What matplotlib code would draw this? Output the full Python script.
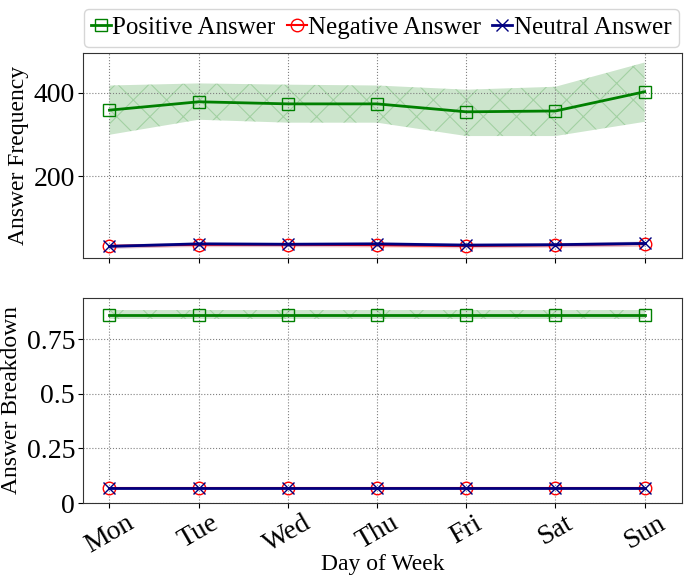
import matplotlib
matplotlib.use("Agg")
import matplotlib.pyplot as plt
import numpy as np

plt.rcParams['font.family'] = ['Liberation Serif', 'DejaVu Serif']
plt.rcParams['hatch.color'] = '#7fc87f'
plt.rcParams['hatch.linewidth'] = 0.8

days = ["Mon", "Tue", "Wed", "Thu", "Fri", "Sat", "Sun"]

# answer frequency (mean, lower, upper)
pos_freq = [358, 378, 373, 373, 354, 356, 402]
pos_freq_lo = [299, 335, 328, 328, 296, 296, 330]
pos_freq_hi = [417, 422, 419, 417, 407, 414, 472]
neg_freq = [33, 36, 36, 35, 33, 35, 38]
neg_freq_lo = [28, 31, 31, 30, 28, 30, 32]
neg_freq_hi = [38, 41, 41, 40, 38, 40, 44]
neu_freq = [32, 38, 37, 38, 35, 36, 39]
neu_freq_lo = [27, 33, 32, 33, 30, 31, 33]
neu_freq_hi = [37, 43, 42, 43, 40, 41, 45]

# answer breakdown
pos_share = [0.862, 0.862, 0.862, 0.862, 0.862, 0.862, 0.862]
pos_share_lo = [0.842, 0.842, 0.842, 0.842, 0.842, 0.842, 0.842]
pos_share_hi = [0.884, 0.884, 0.884, 0.884, 0.884, 0.884, 0.884]
neg_share = [0.069, 0.069, 0.069, 0.069, 0.069, 0.069, 0.069]
neu_share = [0.069, 0.069, 0.069, 0.069, 0.069, 0.069, 0.069]

x = np.arange(len(days))

fig, (ax1, ax2) = plt.subplots(2, 1, figsize=(6.89, 5.75), dpi=100, sharex=True)
fig.subplots_adjust(left=0.12, right=0.99, top=0.908, bottom=0.125, hspace=0.19)


def draw(ax, pos, pos_lo, pos_hi, neg, neg_lo, neg_hi, neu, neu_lo, neu_hi):
    ax.fill_between(x, pos_lo, pos_hi, color='green', alpha=0.2, hatch='x', lw=0)
    if neg_lo is not None:
        ax.fill_between(x, neg_lo, neg_hi, color='red', alpha=0.15, lw=0)
        ax.fill_between(x, neu_lo, neu_hi, color='navy', alpha=0.15, lw=0)
    ax.plot(x, pos, color='green', marker='s', mfc='none', ms=9, lw=2,
            label='Positive Answer')
    ax.plot(x, neg, color='red', marker='o', mfc='none', ms=9, lw=1.5,
            label='Negative Answer')
    ax.plot(x, neu, color='navy', marker='x', ms=9, lw=2,
            label='Neutral Answer')
    ax.grid(True, ls=':', color='gray', lw=0.8)
    ax.tick_params(labelsize=20, pad=2)
    for s in ax.spines.values():
        s.set_color('#333333')


draw(ax1, pos_freq, pos_freq_lo, pos_freq_hi, neg_freq, neg_freq_lo, neg_freq_hi,
     neu_freq, neu_freq_lo, neu_freq_hi)
draw(ax2, pos_share, pos_share_lo, pos_share_hi, neg_share, None, None,
     neu_share, None, None)

ax1.set_ylim(3, 495)
ax1.set_yticks([200, 400])
ax1.set_ylabel('Answer Frequency', fontsize=17, labelpad=3)

ax2.set_ylim(0, 0.94)
ax2.set_yticks([0, 0.25, 0.5, 0.75])
ax2.set_yticklabels(['0', '0.25', '0.5', '0.75'])
ax2.set_ylabel('Answer Breakdown', fontsize=17, labelpad=3)

ax2.set_xlim(-0.3, 6.42)
ax2.set_xticks(x)
ax2.set_xticklabels(days, rotation=30, fontsize=20)
ax2.set_xlabel('Day of Week', fontsize=17, labelpad=-3)

ax1.legend(loc='lower right', bbox_to_anchor=(1.005, 1.0), ncol=3, fontsize=18,
           handlelength=0.8, handletextpad=0.05, columnspacing=0.45,
           borderaxespad=0.25, borderpad=0.3, fancybox=True)

plt.savefig('out.png')
